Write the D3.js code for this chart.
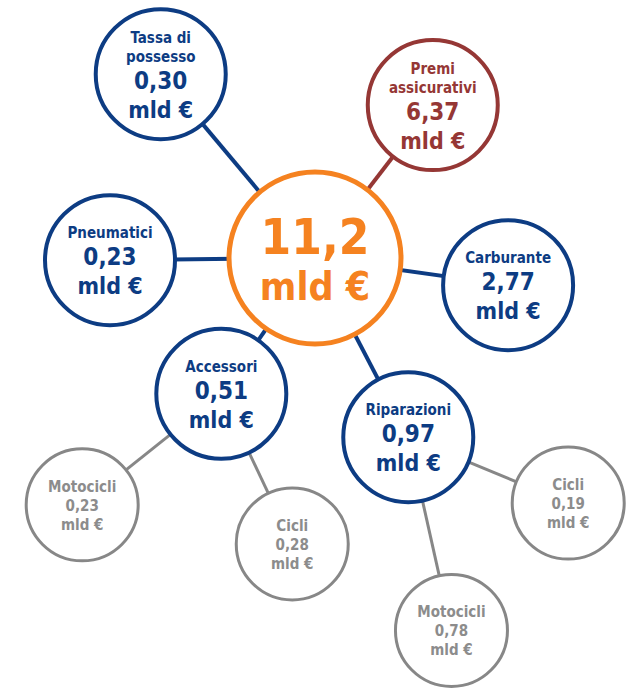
<!DOCTYPE html>
<html>
<head>
<meta charset="utf-8">
<script src="https://cdn.jsdelivr.net/npm/d3@7"></script>
<style>
  body { margin: 0; background: #fff; }
  text { font-family: "DejaVu Sans Condensed", "DejaVu Sans", sans-serif; font-weight: bold; }
</style>
</head>
<body>
<div id="chart"></div>
<script>
// data
var names   = ["11,2", "Tassa di|possesso", "Premi|assicurativi", "Pneumatici", "Carburante", "Accessori", "Riparazioni", "Motocicli", "Cicli", "Cicli", "Motocicli"];
var values  = [11.2, 0.30, 6.37, 0.23, 2.77, 0.51, 0.97, 0.23, 0.28, 0.19, 0.78];
var parents = [-1, 0, 0, 0, 0, 0, 0, 5, 5, 6, 6];
var groups  = ["total", "main", "insurance", "main", "main", "main", "main", "sub", "sub", "sub", "sub"];
var unit = "mld €";

// layout: angle (deg) and distance from the parent node
var angles    = [0, -130, -52.4, 179.4, 8, 124.6, 62.5, 141.4, 64.7, 22.4, 77.4];
var distances = [0, 240, 193, 205, 195, 165, 202, 178, 166, 173, 198];

var width = 635, height = 692;
var origin = { x: 315, y: 258 };

var color = d3.scaleOrdinal()
    .domain(["total", "main", "insurance", "sub"])
    .range(["#f58220", "#0d3c83", "#953735", "#878787"]);
var textColor = d3.scaleOrdinal()
    .domain(["total", "main", "insurance", "sub"])
    .range(["#f58220", "#0d3c83", "#953735", "#8c8c8c"]);
var radius = d3.scaleOrdinal()
    .domain(["total", "main", "insurance", "sub"])
    .range([86, 65, 65, 56]);
var strokeW = d3.scaleOrdinal()
    .domain(["total", "main", "insurance", "sub"])
    .range([5, 4, 4, 3]);

var fmt = function(v) { return d3.format(".2f")(v).replace(".", ","); };

// build nodes
var nodes = names.map(function(n, i) {
  return { i: i, name: n, value: values[i], parent: parents[i], group: groups[i] };
});
nodes.forEach(function(d) {
  if (d.parent < 0) { d.x = origin.x; d.y = origin.y; return; }
  var p = nodes[d.parent];
  var a = angles[d.i] * Math.PI / 180;
  d.x = p.x + Math.cos(a) * distances[d.i];
  d.y = p.y + Math.sin(a) * distances[d.i];
});

var svg = d3.select("#chart").append("svg")
    .attr("width", width)
    .attr("height", height);

// links first, behind the circles
svg.append("g").selectAll("line")
    .data(nodes.filter(function(d) { return d.parent >= 0; }))
  .enter().append("line")
    .attr("x1", function(d) { return nodes[d.parent].x; })
    .attr("y1", function(d) { return nodes[d.parent].y; })
    .attr("x2", function(d) { return d.x; })
    .attr("y2", function(d) { return d.y; })
    .attr("stroke", function(d) { return color(d.group); })
    .attr("stroke-width", function(d) { return d.group == "sub" ? 3 : 4; });

var node = svg.append("g").selectAll("g")
    .data(nodes)
  .enter().append("g")
    .attr("transform", function(d) { return "translate(" + d.x + "," + d.y + ")"; });

node.append("circle")
    .attr("r", function(d) { return radius(d.group); })
    .attr("fill", "#fff")
    .attr("stroke", function(d) { return color(d.group); })
    .attr("stroke-width", function(d) { return strokeW(d.group); });

// text lines: {t, size, y}
node.each(function(d) {
  var lines = [];
  if (d.group == "total") {
    lines.push({ t: fmt(d.value).replace(/0$/, ""), size: 49, y: -4 });
    lines.push({ t: unit, size: 39, y: 42 });
  } else if (d.group == "sub") {
    lines.push({ t: d.name, size: 15, y: 0 });
    lines.push({ t: fmt(d.value), size: 15, y: 19 });
    lines.push({ t: unit, size: 15, y: 38 });
  } else {
    var lab = d.name.split("|");
    var y = 0;
    lab.forEach(function(l, k) {
      if (k > 0) y += 19.5;
      lines.push({ t: l, size: 15, y: y });
    });
    y += 27;
    lines.push({ t: fmt(d.value), size: 24, y: y });
    y += 28.5;
    lines.push({ t: unit, size: 23, y: y });
  }
  if (d.group != "total") {
    var top = lines[0].y - 11, bottom = lines[lines.length - 1].y;
    var shift = -(top + bottom) / 2 + 0.5;
    lines.forEach(function(l) { l.y += shift; });
  }
  d3.select(this).selectAll("text")
      .data(lines)
    .enter().append("text")
      .attr("text-anchor", "middle")
      .attr("y", function(l) { return l.y; })
      .attr("font-size", function(l) { return l.size + "px"; })
      .attr("fill", textColor(d.group))
      .text(function(l) { return l.t; });
});
</script>
</body>
</html>
